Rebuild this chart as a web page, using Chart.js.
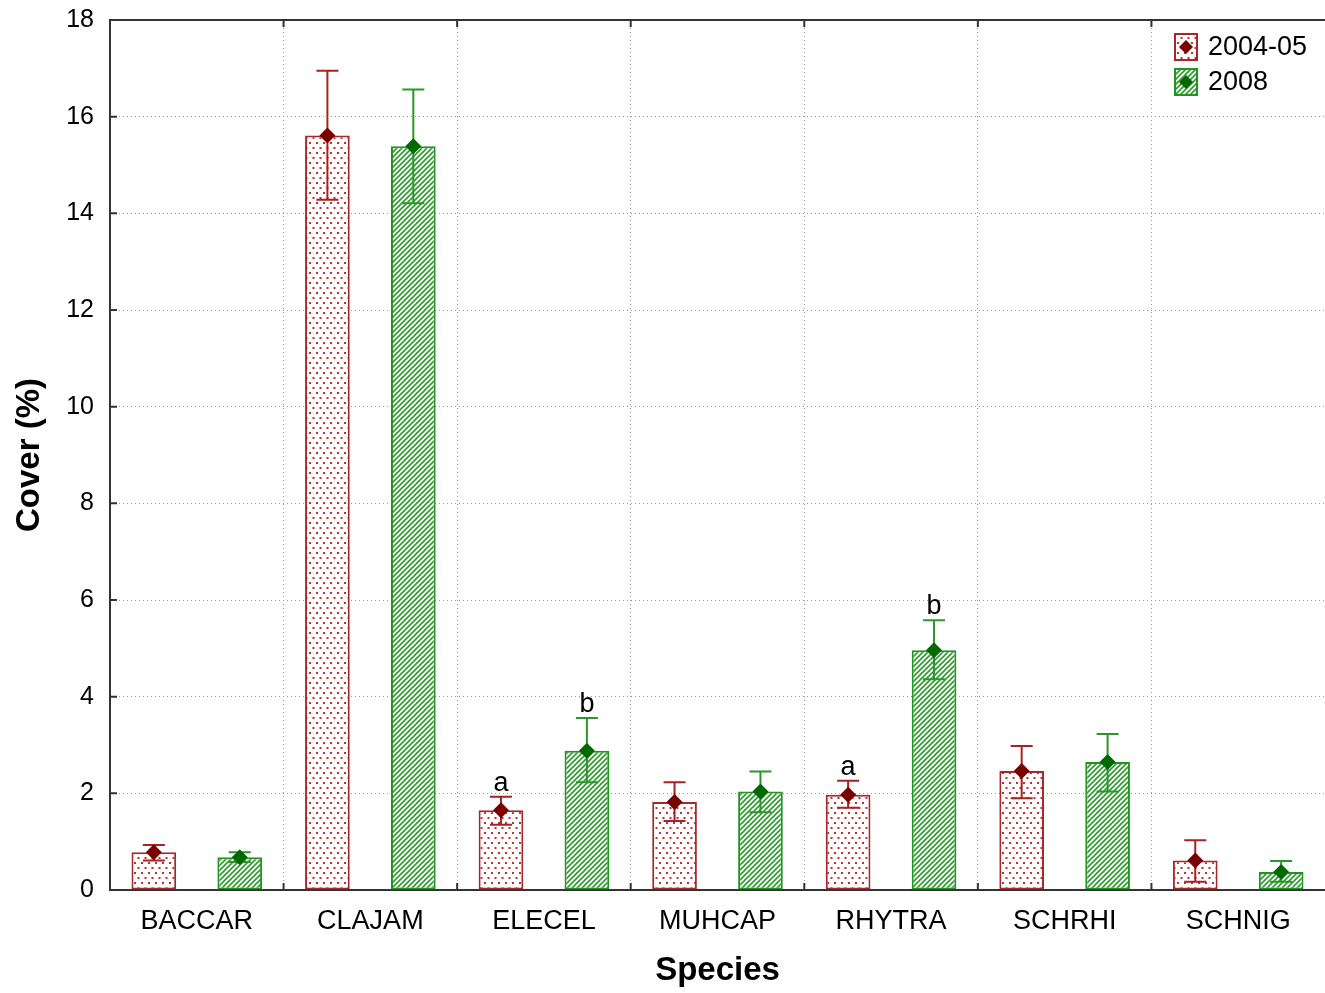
<!DOCTYPE html>
<html>
<head>
<meta charset="utf-8">
<script src="https://cdn.jsdelivr.net/npm/chart.js@4.4.0/dist/chart.umd.min.js"></script>
<style>
  body { margin: 0; background: #fff; }
  #chart { display: block; }
</style>
</head>
<body>
<canvas id="chart" width="1325" height="993"></canvas>
<script>
// Species cover, two survey periods
const species = ['BACCAR', 'CLAJAM', 'ELECEL', 'MUHCAP', 'RHYTRA', 'SCHRHI', 'SCHNIG'];
const periods = ['2004-05', '2008'];

const mean0405 = [0.78, 15.61, 1.65, 1.82, 1.97, 2.46, 0.61];
const low0405  = [0.61, 14.28, 1.35, 1.43, 1.70, 1.90, 0.17];
const high0405 = [0.93, 16.95, 1.93, 2.23, 2.26, 2.98, 1.03];

const mean2008 = [0.68, 15.39, 2.88, 2.04, 4.96, 2.65, 0.37];
const low2008  = [0.58, 14.21, 2.23, 1.61, 4.36, 2.04, 0.17];
const high2008 = [0.78, 16.56, 3.56, 2.45, 5.58, 3.23, 0.60];

// significance letters above the error bars
const letters0405 = ['', '', 'a', '', 'a', '', ''];
const letters2008 = ['', '', 'b', '', 'b', '', ''];

const yTicks = [0, 2, 4, 6, 8, 10, 12, 14, 16, 18];

(function() {
    const FONT = '"Liberation Sans", Arial, sans-serif';

    // Fill patterns
    function dotPattern() {
        const c = document.createElement('canvas');
        c.width = 7; c.height = 10;
        const g = c.getContext('2d');
        g.fillStyle = '#fff';
        g.fillRect(0, 0, 7, 10);
        g.fillStyle = '#b83232';
        g.fillRect(1, 2, 2, 2);
        g.fillRect(4.5, 7, 2, 2);
        return g.createPattern(c, 'repeat');
    }

    function hatchPattern() {
        const s = 5;
        const c = document.createElement('canvas');
        c.width = s; c.height = s;
        const g = c.getContext('2d');
        g.fillStyle = '#fff';
        g.fillRect(0, 0, s, s);
        g.strokeStyle = '#2f9a2f';
        g.lineWidth = 1.6;
        g.beginPath();
        g.moveTo(-1, s + 1); g.lineTo(s + 1, -1);
        g.moveTo(-1, 1); g.lineTo(1, -1);
        g.moveTo(s - 1, s + 1); g.lineTo(s + 1, s - 1);
        g.stroke();
        return g.createPattern(c, 'repeat');
    }

    const series = [
        { mean: mean0405, low: low0405, high: high0405, letters: letters0405,
          fill: dotPattern(), border: '#a8282a', err: '#a52323', marker: '#7a0000' },
        { mean: mean2008, low: low2008, high: high2008, letters: letters2008,
          fill: hatchPattern(), border: '#1f961f', err: '#2b962b', marker: '#006a00' }
    ];

    function diamond(ctx, x, y, r, color) {
        ctx.fillStyle = color;
        ctx.beginPath();
        ctx.moveTo(x, y - r);
        ctx.lineTo(x + r, y);
        ctx.lineTo(x, y + r);
        ctx.lineTo(x - r, y);
        ctx.closePath();
        ctx.fill();
    }

    // Error bars, mean markers and letters
    const errorBarPlugin = {
        id: 'errorBars',
        afterDatasetsDraw(chart) {
            const ctx = chart.ctx;
            const yScale = chart.scales.y;
            ctx.save();
            series.forEach((s, i) => {
                const meta = chart.getDatasetMeta(i);
                meta.data.forEach((bar, j) => {
                    const x = bar.x;
                    const yHi = yScale.getPixelForValue(s.high[j]);
                    const yLo = yScale.getPixelForValue(s.low[j]);
                    const yMean = yScale.getPixelForValue(s.mean[j]);
                    ctx.strokeStyle = s.err;
                    ctx.lineWidth = 2;
                    ctx.beginPath();
                    ctx.moveTo(x, yHi); ctx.lineTo(x, yLo);
                    ctx.moveTo(x - 11, yHi); ctx.lineTo(x + 11, yHi);
                    ctx.moveTo(x - 11, yLo); ctx.lineTo(x + 11, yLo);
                    ctx.stroke();
                    diamond(ctx, x, yMean, 8, s.marker);
                    if (s.letters[j]) {
                        ctx.fillStyle = '#000';
                        ctx.font = '27px ' + FONT;
                        ctx.textAlign = 'center';
                        ctx.textBaseline = 'alphabetic';
                        ctx.fillText(s.letters[j], x, yHi - 6);
                    }
                });
            });
            ctx.restore();
        },
        afterDraw(chart) {
            const ctx = chart.ctx;
            const area = chart.chartArea;
            const xScale = chart.scales.x;
            const yScale = chart.scales.y;
            ctx.save();
            // top frame
            ctx.strokeStyle = '#333';
            ctx.lineWidth = 2;
            ctx.beginPath();
            ctx.moveTo(area.left, area.top);
            ctx.lineTo(area.right, area.top);
            ctx.stroke();
            // inward tick marks
            ctx.lineWidth = 2;
            ctx.beginPath();
            yTicks.forEach(v => {
                const y = yScale.getPixelForValue(v);
                ctx.moveTo(area.left, y); ctx.lineTo(area.left + 7, y);
            });
            for (let k = 1; k < species.length; k++) {
                const x = (xScale.getPixelForValue(k - 1) + xScale.getPixelForValue(k)) / 2;
                ctx.moveTo(x, area.top); ctx.lineTo(x, area.top + 7);
                ctx.moveTo(x, area.bottom); ctx.lineTo(x, area.bottom - 7);
            }
            ctx.stroke();

            // legend
            ctx.font = '27px ' + FONT;
            ctx.textAlign = 'left';
            ctx.textBaseline = 'middle';
            series.forEach((s, i) => {
                const bx = 1175, by = 34 + i * 35, bw = 22, bh = 26;
                ctx.fillStyle = s.fill;
                ctx.fillRect(bx, by, bw, bh);
                ctx.strokeStyle = s.border;
                ctx.lineWidth = 2;
                ctx.strokeRect(bx, by, bw, bh);
                diamond(ctx, bx + bw / 2, by + bh / 2, 7, s.marker);
                ctx.fillStyle = '#000';
                ctx.fillText(periods[i], 1208, by + bh / 2 + 1);
            });
            ctx.restore();
        }
    };

    const gridStyle = { color: '#9a9a9a', lineWidth: 1, drawTicks: false };
    const borderStyle = { display: true, color: '#333', width: 2, dash: [1, 3] };

    new Chart(document.getElementById('chart'), {
        type: 'bar',
        data: {
            labels: species,
            datasets: series.map((s, i) => ({
                label: periods[i],
                data: s.mean,
                backgroundColor: s.fill,
                borderColor: s.border,
                borderWidth: 2,
                borderSkipped: false,
                categoryPercentage: 0.99,
                barPercentage: 0.52
            }))
        },
        options: {
            responsive: false,
            animation: false,
            devicePixelRatio: 1,
            layout: { padding: { left: 0, top: 20, right: 0, bottom: 0 } },
            plugins: {
                legend: { display: false },
                tooltip: { enabled: false }
            },
            scales: {
                x: {
                    grid: Object.assign({ offset: true }, gridStyle),
                    border: borderStyle,
                    ticks: { color: '#000', font: { family: FONT, size: 27 }, padding: 15 },
                    title: {
                        display: true, text: 'Species', color: '#000',
                        font: { family: FONT, size: 33, weight: 'bold' },
                        padding: { top: 0, bottom: 2 }
                    },
                    afterFit(scale) {
                        scale.height = 103;
                        scale.paddingLeft = 0; scale.paddingRight = 0;
                    }
                },
                y: {
                    min: 0, max: 18,
                    afterBuildTicks(scale) { scale.ticks = yTicks.map(v => ({ value: v })); },
                    grid: gridStyle,
                    border: borderStyle,
                    ticks: { color: '#000', font: { family: FONT, size: 25 }, padding: 16 },
                    title: {
                        display: true, text: 'Cover (%)', color: '#000',
                        font: { family: FONT, size: 33, weight: 'bold' },
                        padding: { top: 10, bottom: 0 }
                    },
                    afterFit(scale) {
                        scale.width = 110;
                        scale.paddingTop = 0; scale.paddingBottom = 0;
                    }
                }
            }
        },
        plugins: [errorBarPlugin]
    });
})();
</script>
</body>
</html>
